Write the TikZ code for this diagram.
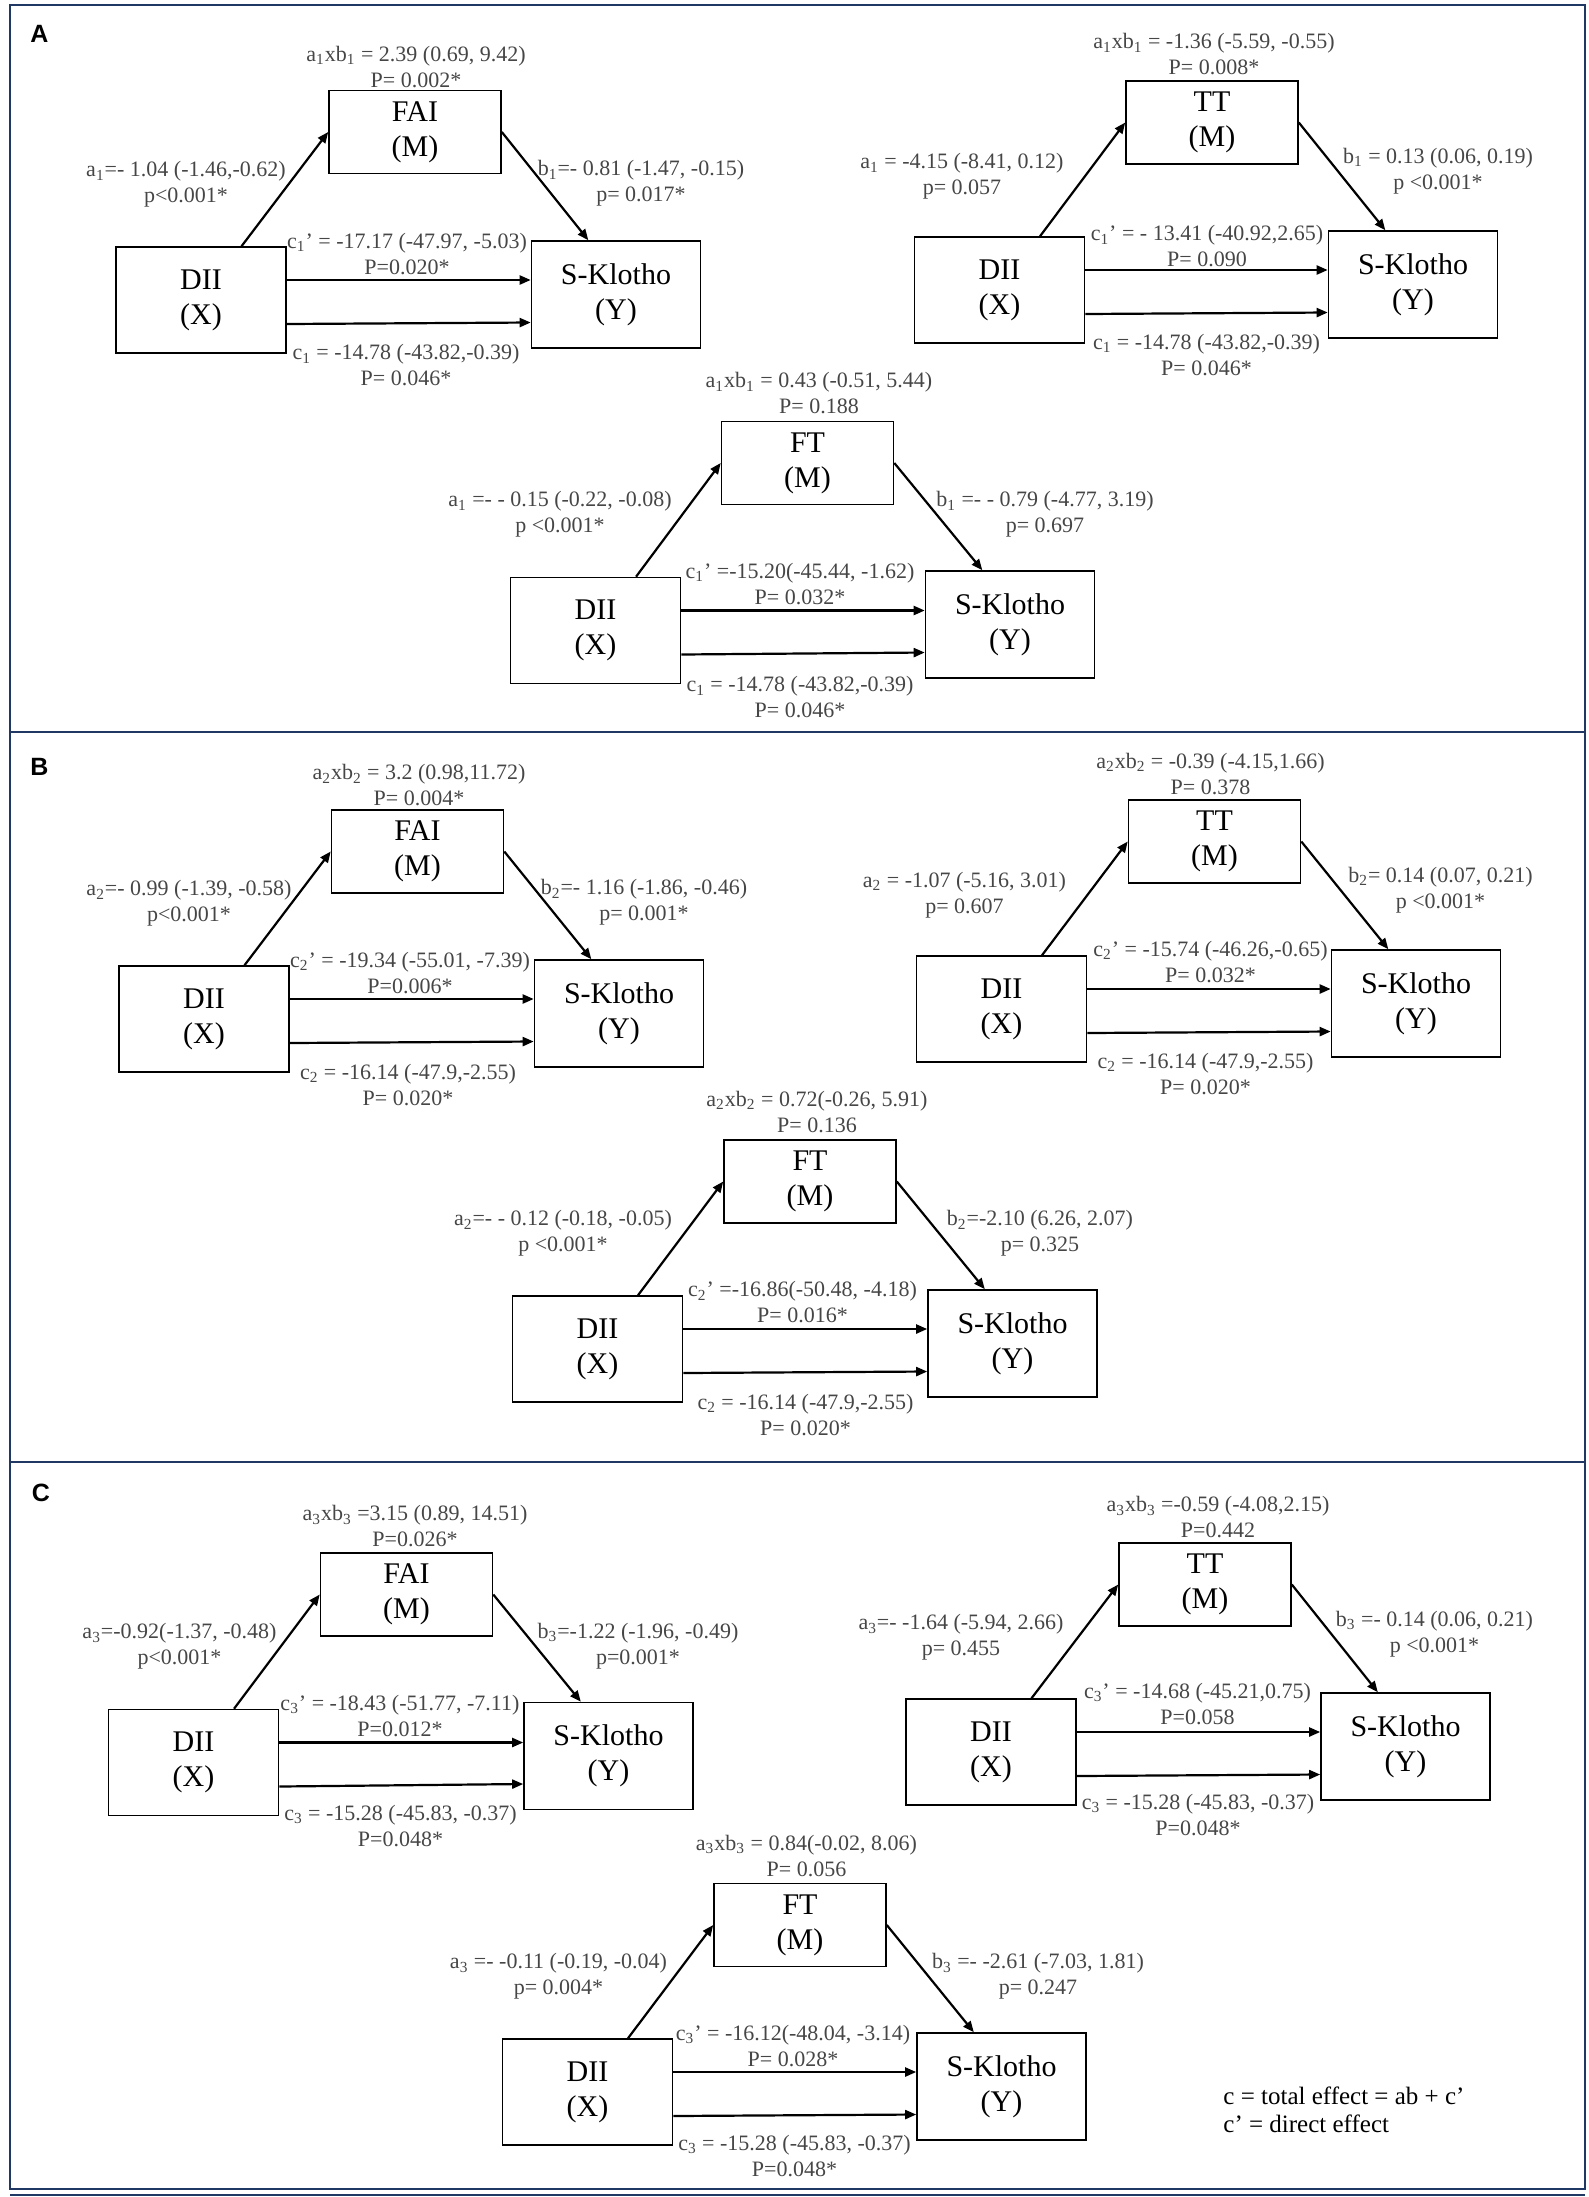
\documentclass[tikz,border=0pt]{standalone}
\usepackage{fontspec}
\setmainfont{Liberation Serif}
\newfontfamily\panelfont{Liberation Sans}
\usetikzlibrary{arrows.meta}
\definecolor{labgray}{RGB}{70,70,70}
\definecolor{navy}{RGB}{31,56,100}
\begin{document}
\begin{tikzpicture}[
  x=0.5pt, y=-0.5pt,
  box/.style={draw=black, line width=0.8pt, align=center, inner sep=0pt, font=\fontsize{15}{17.5}\selectfont},
  xbox/.style={box, minimum width=85pt, minimum height=53pt},
  mbox/.style={box, minimum width=86pt, minimum height=41.5pt},
  ybox/.style={box, minimum width=84.5pt, minimum height=53.5pt},
  elabel/.style={align=center, text=labgray, inner sep=0pt, font=\fontsize{11}{13}\selectfont},
  arr/.style={line width=1.1pt, -{Triangle[length=5.5pt,width=4.5pt]}},
  frame/.style={draw=navy, line width=1.3pt},
  panel/.style={font=\panelfont\bfseries\fontsize{12.5}{14}\selectfont}
]
  \useasboundingbox (0,0) rectangle (1589,2197);

  % --- FRAMES ---
  \draw[frame] (10,5) rectangle (1585,732);
  \draw[frame] (10,732) rectangle (1585,1462);
  \draw[frame] (10,1462) rectangle (1585,2189);
  \draw[navy, line width=0.6pt] (10,2195) -- (1585,2195);

  \node[panel] (pA) at (39.5,33.5) {A};
  \node[panel] (pB) at (39.5,766.5) {B};
  \node[panel] (pC) at (41,1492.5) {C};

  % --- PANEL A, FAI ---
  \node[mbox] (m1) at (415,132)   {FAI\\(M)};
  \node[xbox] (x1) at (201,300)   {DII\\(X)};
  \node[ybox] (y1) at (616,294.5) {S-Klotho\\(Y)};
  \node[elabel] (lab1) at (416,67)    {a\textsubscript{1}xb\textsubscript{1} = 2.39 (0.69, 9.42)\\P= 0.002*};
  \node[elabel] (la1)  at (186,184.5) {a\textsubscript{1}=- 1.04 (-1.46,-0.62)\\p<0.001*};
  \node[elabel] (lb1)  at (641,183.5) {b\textsubscript{1}=- 0.81 (-1.47, -0.15)\\p= 0.017*};
  \node[elabel] (lcp1) at (407,254)   {c\textsubscript{1}’ = -17.17 (-47.97, -5.03)\\P=0.020*};
  \node[elabel] (lc1)  at (406,365.5) {c\textsubscript{1} = -14.78 (-43.82,-0.39)\\P= 0.046*};

  \draw[arr] (x1.53) -- (m1.west);
  \draw[arr] (m1.east) -- (y1.117);
  \draw[arr] ([yshift=10pt]x1.east) -- ([yshift=10pt]x1.east -| y1.west);
  \draw[arr] ([yshift=-12pt]x1.east) -- ([yshift=-14pt]y1.west);

  % --- PANEL A, TT ---
  \node[mbox] (m2) at (1212,122.5) {TT\\(M)};
  \node[xbox] (x2) at (999.5,290)  {DII\\(X)};
  \node[ybox] (y2) at (1413,284.5) {S-Klotho\\(Y)};
  \node[elabel] (lab2) at (1214,54.5)   {a\textsubscript{1}xb\textsubscript{1} = -1.36 (-5.59, -0.55)\\P= 0.008*};
  \node[elabel] (la2)  at (962,176.5)   {a\textsubscript{1} = -4.15 (-8.41, 0.12)\\p= 0.057};
  \node[elabel] (lb2)  at (1438,171)    {b\textsubscript{1} = 0.13 (0.06, 0.19)\\p <0.001*};
  \node[elabel] (lcp2) at (1207,246.5)  {c\textsubscript{1}’ = - 13.41 (-40.92,2.65)\\P= 0.090};
  \node[elabel] (lc2)  at (1206.5,355)  {c\textsubscript{1} = -14.78 (-43.82,-0.39)\\P= 0.046*};

  \draw[arr] (x2.53) -- (m2.west);
  \draw[arr] (m2.east) -- (y2.117);
  \draw[arr] ([yshift=10pt]x2.east) -- ([yshift=10pt]x2.east -| y2.west);
  \draw[arr] ([yshift=-12pt]x2.east) -- ([yshift=-14pt]y2.west);

  % --- PANEL A, FT ---
  \node[mbox] (m3) at (807.5,463)   {FT\\(M)};
  \node[xbox] (x3) at (595.5,630.5) {DII\\(X)};
  \node[ybox] (y3) at (1010,624.5)  {S-Klotho\\(Y)};
  \node[elabel] (lab3) at (819,393.5)  {a\textsubscript{1}xb\textsubscript{1} = 0.43 (-0.51, 5.44)\\P= 0.188};
  \node[elabel] (la3)  at (560,514.5)  {a\textsubscript{1} =- - 0.15 (-0.22, -0.08)\\p <0.001*};
  \node[elabel] (lb3)  at (1045,514.5) {b\textsubscript{1} =- - 0.79 (-4.77, 3.19)\\p= 0.697};
  \node[elabel] (lcp3) at (800,584)    {c\textsubscript{1}’ =-15.20(-45.44, -1.62)\\P= 0.032*};
  \node[elabel] (lc3)  at (800,697.5)  {c\textsubscript{1} = -14.78 (-43.82,-0.39)\\P= 0.046*};

  \draw[arr] (x3.53) -- (m3.west);
  \draw[arr] (m3.east) -- (y3.117);
  \draw[arr] ([yshift=10pt]x3.east) -- ([yshift=10pt]x3.east -| y3.west);
  \draw[arr] ([yshift=-12pt]x3.east) -- ([yshift=-14pt]y3.west);

  % --- PANEL B, FAI ---
  \node[mbox] (m4) at (417.5,851.5) {FAI\\(M)};
  \node[xbox] (x4) at (204,1019)    {DII\\(X)};
  \node[ybox] (y4) at (619,1013.5)  {S-Klotho\\(Y)};
  \node[elabel] (lab4) at (419,785.5) {a\textsubscript{2}xb\textsubscript{2} = 3.2 (0.98,11.72)\\P= 0.004*};
  \node[elabel] (la4)  at (189,903.5) {a\textsubscript{2}=- 0.99 (-1.39, -0.58)\\p<0.001*};
  \node[elabel] (lb4)  at (644,902.5) {b\textsubscript{2}=- 1.16 (-1.86, -0.46)\\p= 0.001*};
  \node[elabel] (lcp4) at (410,973)   {c\textsubscript{2}’ = -19.34 (-55.01, -7.39)\\P=0.006*};
  \node[elabel] (lc4)  at (408,1085)  {c\textsubscript{2} = -16.14 (-47.9,-2.55)\\P= 0.020*};

  \draw[arr] (x4.53) -- (m4.west);
  \draw[arr] (m4.east) -- (y4.117);
  \draw[arr] ([yshift=10pt]x4.east) -- ([yshift=10pt]x4.east -| y4.west);
  \draw[arr] ([yshift=-12pt]x4.east) -- ([yshift=-14pt]y4.west);

  % --- PANEL B, TT ---
  \node[mbox] (m5) at (1214.5,841.5) {TT\\(M)};
  \node[xbox] (x5) at (1001.5,1009)  {DII\\(X)};
  \node[ybox] (y5) at (1416,1003.5)  {S-Klotho\\(Y)};
  \node[elabel] (lab5) at (1210.5,774) {a\textsubscript{2}xb\textsubscript{2} = -0.39 (-4.15,1.66)\\P= 0.378};
  \node[elabel] (la5)  at (964.5,895)  {a\textsubscript{2} = -1.07 (-5.16, 3.01)\\p= 0.607};
  \node[elabel] (lb5)  at (1440.5,890) {b\textsubscript{2}= 0.14 (0.07, 0.21)\\p <0.001*};
  \node[elabel] (lcp5) at (1210.5,962) {c\textsubscript{2}’ = -15.74 (-46.26,-0.65)\\P= 0.032*};
  \node[elabel] (lc5)  at (1205.5,1074) {c\textsubscript{2} = -16.14 (-47.9,-2.55)\\P= 0.020*};

  \draw[arr] (x5.53) -- (m5.west);
  \draw[arr] (m5.east) -- (y5.117);
  \draw[arr] ([yshift=10pt]x5.east) -- ([yshift=10pt]x5.east -| y5.west);
  \draw[arr] ([yshift=-12pt]x5.east) -- ([yshift=-14pt]y5.west);

  % --- PANEL B, FT ---
  \node[mbox] (m6) at (810,1181.5)   {FT\\(M)};
  \node[xbox] (x6) at (597.5,1349)   {DII\\(X)};
  \node[ybox] (y6) at (1012.5,1343.5) {S-Klotho\\(Y)};
  \node[elabel] (lab6) at (817,1112)    {a\textsubscript{2}xb\textsubscript{2} = 0.72(-0.26, 5.91)\\P= 0.136};
  \node[elabel] (la6)  at (563,1233.5)  {a\textsubscript{2}=- - 0.12 (-0.18, -0.05)\\p <0.001*};
  \node[elabel] (lb6)  at (1040,1233.5) {b\textsubscript{2}=-2.10 (6.26, 2.07)\\p= 0.325};
  \node[elabel] (lcp6) at (802.5,1302.5) {c\textsubscript{2}’ =-16.86(-50.48, -4.18)\\P= 0.016*};
  \node[elabel] (lc6)  at (805.5,1415)  {c\textsubscript{2} = -16.14 (-47.9,-2.55)\\P= 0.020*};

  \draw[arr] (x6.53) -- (m6.west);
  \draw[arr] (m6.east) -- (y6.117);
  \draw[arr] ([yshift=10pt]x6.east) -- ([yshift=10pt]x6.east -| y6.west);
  \draw[arr] ([yshift=-12pt]x6.east) -- ([yshift=-14pt]y6.west);

  % --- PANEL C, FAI ---
  \node[mbox] (m7) at (406.5,1594.5) {FAI\\(M)};
  \node[xbox] (x7) at (193.5,1762.5) {DII\\(X)};
  \node[ybox] (y7) at (608.5,1756)   {S-Klotho\\(Y)};
  \node[elabel] (lab7) at (415,1526.5)  {a\textsubscript{3}xb\textsubscript{3} =3.15 (0.89, 14.51)\\P=0.026*};
  \node[elabel] (la7)  at (179.5,1646.5) {a\textsubscript{3}=-0.92(-1.37, -0.48)\\p<0.001*};
  \node[elabel] (lb7)  at (638,1646)    {b\textsubscript{3}=-1.22 (-1.96, -0.49)\\p=0.001*};
  \node[elabel] (lcp7) at (400,1716)    {c\textsubscript{3}’ = -18.43 (-51.77, -7.11)\\P=0.012*};
  \node[elabel] (lc7)  at (400.5,1826)  {c\textsubscript{3} = -15.28 (-45.83, -0.37)\\P=0.048*};

  \draw[arr] (x7.53) -- (m7.west);
  \draw[arr] (m7.east) -- (y7.117);
  \draw[arr] ([yshift=10pt]x7.east) -- ([yshift=10pt]x7.east -| y7.west);
  \draw[arr] ([yshift=-12pt]x7.east) -- ([yshift=-14pt]y7.west);

  % --- PANEL C, TT ---
  \node[mbox] (m8) at (1205,1584.5)  {TT\\(M)};
  \node[xbox] (x8) at (991,1752)     {DII\\(X)};
  \node[ybox] (y8) at (1405.5,1746.5) {S-Klotho\\(Y)};
  \node[elabel] (lab8) at (1218,1517.5)  {a\textsubscript{3}xb\textsubscript{3} =-0.59 (-4.08,2.15)\\P=0.442};
  \node[elabel] (la8)  at (961,1637.5)   {a\textsubscript{3}=- -1.64 (-5.94, 2.66)\\p= 0.455};
  \node[elabel] (lb8)  at (1434.5,1634)  {b\textsubscript{3} =- 0.14 (0.06, 0.21)\\p <0.001*};
  \node[elabel] (lcp8) at (1197.5,1704)  {c\textsubscript{3}’ = -14.68 (-45.21,0.75)\\P=0.058};
  \node[elabel] (lc8)  at (1198,1814.5)  {c\textsubscript{3} = -15.28 (-45.83, -0.37)\\P=0.048*};

  \draw[arr] (x8.53) -- (m8.west);
  \draw[arr] (m8.east) -- (y8.117);
  \draw[arr] ([yshift=10pt]x8.east) -- ([yshift=10pt]x8.east -| y8.west);
  \draw[arr] ([yshift=-12pt]x8.east) -- ([yshift=-14pt]y8.west);

  % --- PANEL C, FT ---
  \node[mbox] (m9) at (800,1925)     {FT\\(M)};
  \node[xbox] (x9) at (587.5,2092)   {DII\\(X)};
  \node[ybox] (y9) at (1001.5,2086.5) {S-Klotho\\(Y)};
  \node[elabel] (lab9) at (806.5,1855.5) {a\textsubscript{3}xb\textsubscript{3} = 0.84(-0.02, 8.06)\\P= 0.056};
  \node[elabel] (la9)  at (558.5,1976.5) {a\textsubscript{3} =- -0.11 (-0.19, -0.04)\\p= 0.004*};
  \node[elabel] (lb9)  at (1038,1976.5)  {b\textsubscript{3} =- -2.61 (-7.03, 1.81)\\p= 0.247};
  \node[elabel] (lcp9) at (793,2046)     {c\textsubscript{3}’ = -16.12(-48.04, -3.14)\\P= 0.028*};
  \node[elabel] (lc9)  at (794.5,2156)   {c\textsubscript{3} = -15.28 (-45.83, -0.37)\\P=0.048*};

  \draw[arr] (x9.53) -- (m9.west);
  \draw[arr] (m9.east) -- (y9.117);
  \draw[arr] ([yshift=10pt]x9.east) -- ([yshift=10pt]x9.east -| y9.west);
  \draw[arr] ([yshift=-12pt]x9.east) -- ([yshift=-14pt]y9.west);

  % --- LEGEND ---
  \node[anchor=west, align=left, inner sep=0pt, font=\fontsize{12.5}{14}\selectfont] (key) at (1223,2109.5)
    {c = total effect = ab + c’\\c’ = direct effect};
\end{tikzpicture}
\end{document}
